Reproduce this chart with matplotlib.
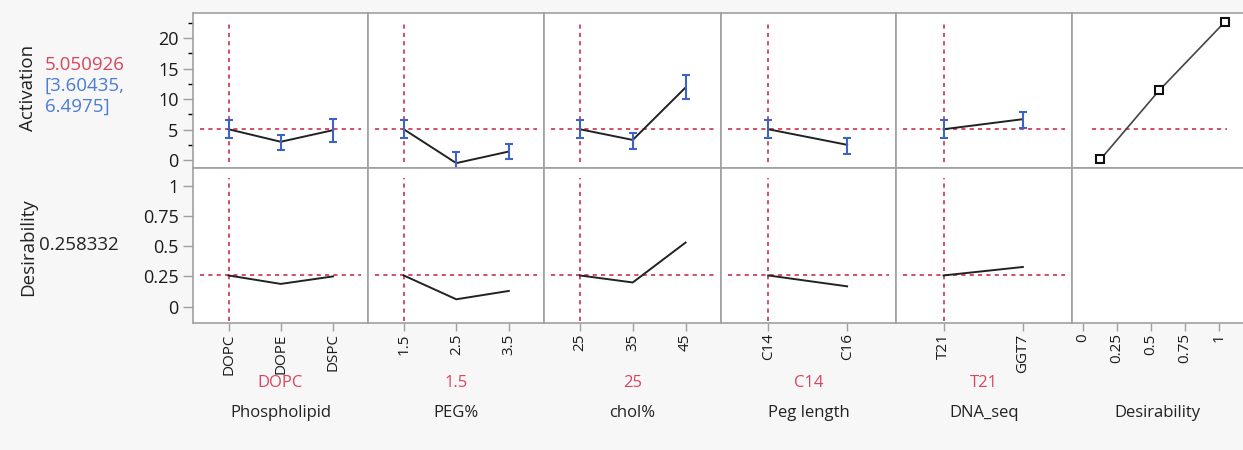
import numpy as np
import matplotlib.pyplot as plt
from matplotlib.ticker import MultipleLocator

plt.rcParams['font.family'] = ['Open Sans', 'DejaVu Sans']

# factors, their levels and the current setting
factor_names = ['Phospholipid', 'PEG%', 'chol%', 'Peg length', 'DNA_seq']
levels = [['DOPC', 'DOPE', 'DSPC'],
          ['1.5', '2.5', '3.5'],
          ['25', '35', '45'],
          ['C14', 'C16'],
          ['T21', 'GGT7']]
current = ['DOPC', '1.5', '25', 'C14', 'T21']

# predicted Activation with confidence interval at each level
act_mean = [[5.05, 3.0, 4.9], [5.05, -0.5, 1.4], [5.05, 3.3, 11.9], [5.05, 2.5], [5.05, 6.7]]
act_lo = [[3.60, 1.6, 3.0], [3.60, -2.2, 0.1], [3.60, 1.8, 9.95], [3.60, 1.0], [3.60, 5.3]]
act_hi = [[6.50, 4.1, 6.7], [6.50, 1.25, 2.6], [6.50, 4.4, 13.9], [6.50, 3.55], [6.50, 7.9]]

# desirability at each level
desir = [[0.258, 0.188, 0.25], [0.258, 0.061, 0.13], [0.258, 0.2, 0.53], [0.258, 0.168], [0.258, 0.328]]

# desirability function for Activation
dfun_x = [0.13, 0.56, 1.04]
dfun_y = [0.1, 11.4, 22.6]

pred_value = 5.050926
pred_ci = (3.60435, 6.4975)
desir_value = 0.258332

RED = '#c8324f'
BLUE = '#3d63c4'
GRID = '#a0a0a0'
FS_LEFT = 13.5   # row labels and current values
FS_Y = 13        # y tick labels
FS_X = 11        # rotated x tick labels
FS_BOT = 12      # factor names / current settings

W, H = 1243, 450
fig = plt.figure(figsize=(W / 100, H / 100), dpi=100)
fig.patch.set_facecolor('#f7f7f7')


def add_ax(x0, x1, y0, y1):
    ax = fig.add_axes([x0 / W, 1 - y1 / H, (x1 - x0) / W, (y1 - y0) / H])
    ax.set_facecolor('white')
    for s in ax.spines.values():
        s.set_color(GRID)
        s.set_linewidth(1.2)
    ax.tick_params(colors=GRID, labelcolor='#1a1a1a')
    ax.tick_params(axis='x', labelsize=FS_X)
    ax.tick_params(axis='y', labelsize=FS_Y)
    return ax


col_edges = [193, 368, 544, 721, 896, 1072, 1247]
row_edges = [13, 168, 323]

for i, name in enumerate(factor_names):
    n = len(levels[i])
    x = np.arange(n)
    if n == 3:
        xlim = (-0.68, 2.67)
    else:
        xlim = (-0.6, 1.62)
    cur = levels[i].index(current[i])

    # Activation row
    ax = add_ax(col_edges[i], col_edges[i + 1], row_edges[0], row_edges[1])
    ax.set_xlim(*xlim)
    ax.set_ylim(-1.3, 24.1)
    ax.axhline(pred_value, xmin=0.04, xmax=0.96, color=RED, ls=(0, (2.5, 2.5)), lw=1.2, zorder=1)
    ax.axvline(cur, ymin=0.04, ymax=0.935, color=RED, ls=(0, (2.5, 2.5)), lw=1.2, zorder=1)
    ax.plot(x, act_mean[i], color='#222222', lw=1.4, zorder=2)
    m = np.array(act_mean[i])
    err = [m - np.array(act_lo[i]), np.array(act_hi[i]) - m]
    ax.errorbar(x, m, yerr=err, fmt='none', ecolor=BLUE, elinewidth=1.5,
                capsize=3, capthick=1.5, zorder=3)
    ax.set_xticks([])
    if i == 0:
        ax.set_yticks([0, 5, 10, 15, 20])
        ax.yaxis.set_minor_locator(MultipleLocator(2.5))
        ax.tick_params(axis='y', which='major', length=7, width=1)
        ax.tick_params(axis='y', which='minor', length=3.5, width=1)
    else:
        ax.set_yticks([])

    # Desirability row
    ax = add_ax(col_edges[i], col_edges[i + 1], row_edges[1], row_edges[2])
    ax.set_xlim(*xlim)
    ax.set_ylim(-0.135, 1.146)
    ax.axhline(desir_value, xmin=0.04, xmax=0.96, color=RED, ls=(0, (2.5, 2.5)), lw=1.2, zorder=1)
    ax.axvline(cur, ymin=0.01, ymax=0.935, color=RED, ls=(0, (2.5, 2.5)), lw=1.2, zorder=1)
    ax.plot(x, desir[i], color='#222222', lw=1.4, zorder=2)
    ax.set_xticks(x)
    ax.set_xticklabels(levels[i], rotation=90)
    ax.tick_params(axis='x', length=6, width=1, pad=1.5)
    if i == 0:
        ax.set_yticks([0, 0.25, 0.5, 0.75, 1])
        ax.set_yticklabels(['0', '0.25', '0.5', '0.75', '1'])
        ax.tick_params(axis='y', length=7, width=1)
    else:
        ax.set_yticks([])

    xc = (col_edges[i] + col_edges[i + 1]) / 2 / W
    fig.text(xc, 1 - 383 / H, current[i], color='#d9455f', fontsize=FS_BOT, ha='center', va='center')
    fig.text(xc, 1 - 413 / H, name, color='#222222', fontsize=FS_BOT, ha='center', va='center')

# desirability function panel
dlim = (-0.078, 1.204)
ax = add_ax(col_edges[5], col_edges[6], row_edges[0], row_edges[1])
ax.set_xlim(*dlim)
ax.set_ylim(-1.3, 24.1)
ax.axhline(pred_value, xmin=0.114, xmax=0.886, color=RED, ls=(0, (2.5, 2.5)), lw=1.2, zorder=1)
ax.plot(dfun_x, dfun_y, color='#444444', lw=1.2, marker='s', ms=6,
        mfc='white', mec='#111111', mew=1.5, zorder=2)
ax.set_xticks([])
ax.set_yticks([])

ax = add_ax(col_edges[5], col_edges[6], row_edges[1], row_edges[2])
ax.set_xlim(*dlim)
ax.set_ylim(-0.135, 1.146)
ax.set_xticks([0, 0.25, 0.5, 0.75, 1])
ax.set_xticklabels(['0', '0.25', '0.5', '0.75', '1'], rotation=90)
ax.tick_params(axis='x', length=6, width=1, pad=1.5)
ax.set_yticks([])
fig.text((col_edges[5] + 1243) / 2 / W, 1 - 413 / H, 'Desirability',
         color='#222222', fontsize=FS_BOT, ha='center', va='center')

# row labels and current values
fig.text(28 / W, 1 - 88 / H, 'Activation', rotation=90, fontsize=FS_LEFT,
         color='#222222', ha='center', va='center')
fig.text(45 / W, 1 - 65 / H, f'{pred_value:.6f}', color='#d9455f', fontsize=FS_LEFT,
         ha='left', va='center')
fig.text(45 / W, 1 - 86 / H, f'[{pred_ci[0]:.5f},', color='#4a7bd6', fontsize=FS_LEFT,
         ha='left', va='center')
fig.text(45 / W, 1 - 107 / H, f'{pred_ci[1]:.4f}]', color='#4a7bd6', fontsize=FS_LEFT,
         ha='left', va='center')
fig.text(28 / W, 1 - 247 / H, 'Desirability', rotation=90, fontsize=FS_LEFT,
         color='#222222', ha='center', va='center')
fig.text(39 / W, 1 - 245 / H, f'{desir_value:.6f}', color='#222222', fontsize=FS_LEFT,
         ha='left', va='center')

fig.savefig('out.png', dpi=100, facecolor=fig.get_facecolor())
